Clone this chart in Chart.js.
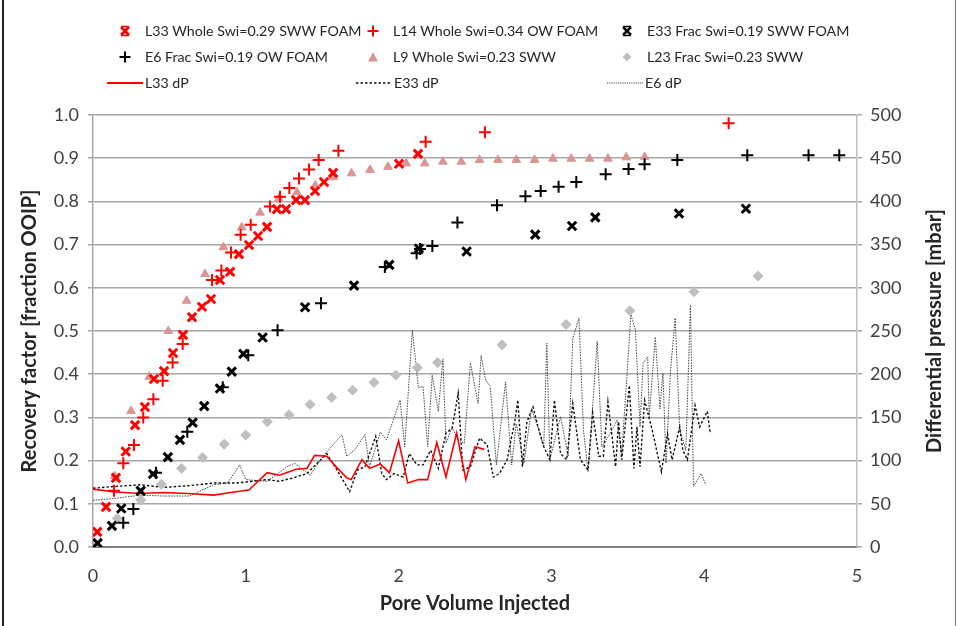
<!DOCTYPE html>
<html><head><meta charset="utf-8">
<script src="https://cdn.jsdelivr.net/npm/chart.js@4/dist/chart.umd.min.js"></script>
<style>
html,body{margin:0;padding:0;background:#fff;}
#wrap{position:relative;width:958px;height:626px;overflow:hidden;font-family:Lato,'Open Sans',sans-serif;}
#c{position:absolute;left:0;top:0;}
.frame{position:absolute;left:2px;top:0;width:954px;height:626px;border-left:2px solid #222;border-right:1px solid #777;box-sizing:border-box;pointer-events:none}
.lt{position:absolute;font-size:14.2px;color:#262626;white-space:nowrap;line-height:18px;transform:translateY(-50%)}
.lm{position:absolute}
#rtitle{position:absolute;left:933px;top:331px;transform:translate(-50%,-50%) rotate(-90deg);font-weight:bold;font-size:20px;color:#262626;white-space:nowrap}
</style></head>
<body>
<div id="wrap">
<canvas id="c" width="958" height="626"></canvas>
<div id="legend"></div>
<div id="rtitle">Differential pressure [mbar]</div>
<div class="frame"></div>
</div>
<script>
// ---------- DATA ----------
const xTicks = [0,1,2,3,4,5];
const L33_x = [0.028,0.085,0.15,0.214,0.275,0.34,0.399,0.465,0.524,0.589,0.648,0.713,0.772,0.831,0.897,0.955,1.021,1.080,1.139,1.204,1.263,1.329,1.387,1.453,1.512,1.571,2.003,2.127];
const L33_y = [0.035,0.093,0.16,0.221,0.282,0.324,0.389,0.407,0.449,0.491,0.532,0.556,0.574,0.618,0.637,0.678,0.699,0.720,0.741,0.782,0.782,0.803,0.803,0.824,0.845,0.866,0.887,0.910];

const L14_x = [0.137,0.198,0.268,0.329,0.395,0.456,0.521,0.587,0.779,0.840,0.903,0.966,1.032,1.158,1.224,1.285,1.348,1.414,1.477,1.606,2.177,2.565,4.16];
const L14_y = [0.130,0.194,0.236,0.300,0.342,0.385,0.427,0.470,0.618,0.640,0.682,0.723,0.746,0.788,0.811,0.831,0.853,0.874,0.896,0.917,0.938,0.960,0.981];

const E33_x = [0.03,0.124,0.185,0.312,0.393,0.49,0.569,0.652,0.728,0.831,0.908,0.984,1.11,1.388,1.708,1.939,2.133,2.445,2.894,3.135,3.287,3.835,4.273];
const E33_y = [0.009,0.049,0.089,0.130,0.169,0.208,0.248,0.288,0.326,0.367,0.406,0.447,0.485,0.555,0.605,0.653,0.691,0.684,0.723,0.743,0.763,0.772,0.783];

const E6_x = [0.198,0.264,0.412,0.617,0.849,1.016,1.208,1.492,1.91,2.118,2.14,2.221,2.385,2.644,2.83,2.93,3.047,3.163,3.355,3.505,3.61,3.824,4.282,4.683,4.884];
const E6_y = [0.056,0.088,0.172,0.267,0.370,0.444,0.502,0.564,0.648,0.680,0.690,0.697,0.751,0.791,0.812,0.824,0.834,0.845,0.863,0.875,0.886,0.896,0.907,0.907,0.907];

const L9_x = [0,0.142,0.249,0.368,0.493,0.613,0.733,0.853,0.973,1.093,1.215,1.335,1.455,1.573,1.692,1.813,1.931,2.05,2.171,2.29,2.41,2.53,2.65,2.77,2.89,3.01,3.13,3.25,3.37,3.49,3.61];
const L9_y = [0,0.164,0.315,0.394,0.500,0.570,0.632,0.694,0.740,0.774,0.806,0.821,0.837,0.856,0.865,0.873,0.880,0.888,0.888,0.892,0.892,0.896,0.896,0.896,0.896,0.899,0.899,0.899,0.899,0.902,0.903];

const L23_x = [0,0.159,0.312,0.447,0.58,0.718,0.859,0.999,1.141,1.283,1.42,1.562,1.699,1.839,1.981,2.123,2.255,2.677,3.096,3.514,3.933,4.352];
const L23_y = [0,0.066,0.109,0.145,0.182,0.207,0.238,0.259,0.290,0.306,0.330,0.346,0.363,0.381,0.398,0.415,0.427,0.468,0.515,0.547,0.591,0.627];

const L33dP_x = [0,0.13,0.31,0.46,0.62,0.79,0.90,1.02,1.14,1.22,1.33,1.40,1.45,1.53,1.59,1.66,1.69,1.76,1.81,1.88,1.94,2.00,2.06,2.13,2.19,2.25,2.31,2.38,2.44,2.50,2.56];
const L33dP_y = [67,64,62,63,62,60,63,66,86,83,90,91,106,105,93,80,78,101,91,96,86,123,74,78,78,121,81,132,78,116,113];

const E33dP_x = [0,0.13,0.31,0.46,0.63,0.79,0.94,1.14,1.22,1.31,1.40,1.49,1.53,1.59,1.68,1.73,1.78,1.85,1.89,1.92,1.97,2.03,2.07,2.12,2.16,2.21,2.26,2.31,2.35,2.39,2.42,2.47,2.53,2.58,2.62,2.66,2.71,2.76,2.78,2.81,2.84,2.88,2.91,2.95,2.99,3.02,3.06,3.10,3.14,3.19,3.24,3.27,3.31,3.34,3.37,3.42,3.44,3.46,3.51,3.54,3.56,3.58,3.61,3.66,3.72,3.76,3.79,3.84,3.86,3.89,3.94,3.97,4.02,4.04];
const E33dP_y = [68,70,72,69,71,74,74,78,76,80,85,101,108,91,64,89,93,128,85,78,85,81,108,95,95,112,91,132,137,178,89,93,126,118,81,85,101,145,170,93,145,162,141,116,101,170,108,101,166,101,89,155,105,105,168,93,145,101,187,91,139,93,170,135,87,131,101,139,112,101,164,139,157,131];

const E6dP_x = [0,0.13,0.31,0.46,0.63,0.79,0.88,0.96,1.00,1.14,1.27,1.32,1.42,1.49,1.53,1.63,1.66,1.71,1.78,1.81,1.88,1.92,2.01,2.04,2.09,2.13,2.16,2.19,2.22,2.26,2.29,2.31,2.35,2.39,2.43,2.47,2.52,2.54,2.57,2.60,2.64,2.70,2.74,2.77,2.82,2.87,2.91,2.95,2.97,2.99,3.06,3.11,3.14,3.18,3.21,3.24,3.30,3.33,3.38,3.43,3.46,3.50,3.52,3.55,3.58,3.60,3.63,3.64,3.68,3.71,3.73,3.75,3.78,3.81,3.84,3.88,3.91,3.93,3.98,4.01];
const E6dP_y = [54,56,60,59,59,72,74,95,78,76,93,97,83,101,110,130,105,112,130,93,133,124,170,116,251,184,186,116,199,157,218,120,139,124,120,213,166,222,193,186,95,191,95,143,97,160,139,116,236,101,151,105,241,265,135,87,238,116,130,147,108,213,269,251,139,213,220,151,243,160,201,97,205,265,135,112,280,70,85,72];

// ---------- BUILD ----------
const pts = (xs, ys) => xs.map((x, i) => ({x, y: ys[i]}));
const RED = '#ff0000', ROSE = '#d99594', GREY = '#bfbfbf';

const datasets = [
  {label:'L33 Whole Swi=0.29 SWW FOAM', data:pts(L33_x,L33_y), pointStyle:'crossRot', pointRadius:6, borderColor:RED, backgroundColor:RED, pointBorderWidth:3, showLine:false, yAxisID:'y'},
  {label:'L14 Whole Swi=0.34 OW FOAM', data:pts(L14_x,L14_y), pointStyle:'cross', pointRadius:6, borderColor:RED, backgroundColor:RED, pointBorderWidth:2, showLine:false, yAxisID:'y'},
  {label:'E33 Frac Swi=0.19 SWW FOAM', data:pts(E33_x,E33_y), pointStyle:'crossRot', pointRadius:6, borderColor:'#000', backgroundColor:'#000', pointBorderWidth:3, showLine:false, yAxisID:'y'},
  {label:'E6 Frac Swi=0.19 OW FOAM', data:pts(E6_x,E6_y), pointStyle:'cross', pointRadius:6, borderColor:'#000', backgroundColor:'#000', pointBorderWidth:2, showLine:false, yAxisID:'y'},
  {label:'L9 Whole Swi=0.23 SWW', data:pts(L9_x,L9_y), pointStyle:'triangle', pointRadius:5, borderColor:ROSE, backgroundColor:ROSE, pointBorderWidth:1, showLine:false, yAxisID:'y'},
  {label:'L23 Frac Swi=0.23 SWW', data:pts(L23_x,L23_y), pointStyle:'rectRot', pointRadius:5, borderColor:GREY, backgroundColor:GREY, pointBorderWidth:1, showLine:false, yAxisID:'y'},
  {label:'L33 dP', data:pts(L33dP_x,L33dP_y), showLine:true, pointRadius:0, borderColor:RED, borderWidth:1.6, tension:0, yAxisID:'y2'},
  {label:'E33 dP', data:pts(E33dP_x,E33dP_y), showLine:true, pointRadius:0, borderColor:'#111', borderWidth:1.4, borderDash:[2.5,2], tension:0, yAxisID:'y2'},
  {label:'E6 dP', data:pts(E6dP_x,E6dP_y), showLine:true, pointRadius:0, borderColor:'#444', borderWidth:1, borderDash:[1.5,1.2], tension:0, yAxisID:'y2'}
];

const tickFont = {family:"Lato, 'Open Sans', sans-serif", size:18};
const titleFont = {family:"Lato, 'Open Sans', sans-serif", size:20, weight:'bold'};

new Chart(document.getElementById('c'), {
  type:'scatter',
  data:{datasets},
  options:{
    responsive:false, animation:false, events:[],
    layout:{padding:{top:115,left:0,right:0,bottom:0}},
    plugins:{legend:{display:false}, tooltip:{enabled:false}},
    scales:{
      x:{type:'linear', min:0, max:5,
        afterBuildTicks(s){ s.ticks = xTicks.map(v=>({value:v})); },
        ticks:{padding:18, font:tickFont, color:'#404040', maxRotation:0},
        grid:{display:true, drawOnChartArea:false, drawTicks:true, tickLength:0.01, color:'rgba(0,0,0,0)'},
        border:{color:'#808080', width:2},
        title:{display:true, text:'Pore Volume Injected', font:titleFont, color:'#262626', padding:{top:0,bottom:10}},
        afterFit(s){ s.height = 79; }
      },
      y:{position:'left', min:0, max:1,
        ticks:{stepSize:0.1, padding:9, font:tickFont, color:'#404040', callback:v=>Number(v).toFixed(1)},
        grid:{color:'#a6a6a6', lineWidth:1.5, tickLength:5},
        border:{color:'#a6a6a6', width:1.5},
        title:{display:true, text:'Recovery factor [fraction OOIP]', font:titleFont, color:'#262626', padding:{top:18,bottom:0}},
        afterFit(s){ s.width = 93; }
      },
      y2:{position:'right', min:0, max:500,
        ticks:{stepSize:50, padding:8, font:tickFont, color:'#404040'},
        grid:{drawOnChartArea:false, tickLength:5, color:'#a6a6a6', lineWidth:1.5},
        border:{color:'#bfbfbf', width:1.5},
        afterFit(s){ s.width = 101; }
      }
    }
  }
});

// ---------- LEGEND (HTML) ----------
const legendItems = [
  {text:datasets[0].label, mx:125, y:31, kind:'xbar', color:RED},
  {text:datasets[1].label, mx:373, y:31, kind:'plus', color:RED},
  {text:datasets[2].label, mx:627, y:31, kind:'xbar', color:'#000'},
  {text:datasets[3].label, mx:125, y:57, kind:'plus', color:'#000'},
  {text:datasets[4].label, mx:373, y:57, kind:'tri', color:ROSE},
  {text:datasets[5].label, mx:627, y:57, kind:'dia', color:GREY},
  {text:datasets[6].label, mx:125, y:83, kind:'solid', color:RED},
  {text:datasets[7].label, mx:374, y:83, kind:'dash', color:'#111'},
  {text:datasets[8].label, mx:625, y:83, kind:'dot', color:'#444'}
];
const lg = document.getElementById('legend');
legendItems.forEach(it=>{
  let svg;
  const c = it.color;
  if (it.kind==='xbar') svg = `<svg width="14" height="14" class="lm" style="left:${it.mx-7}px;top:${it.y-7}px"><path d="M3 3 L11 11 M11 3 L3 11" stroke="${c}" stroke-width="2.6"/><path d="M3 2.5 L11 2.5 M3 11.5 L11 11.5" stroke="${c}" stroke-width="1.5"/></svg>`;
  else if (it.kind==='plus') svg = `<svg width="14" height="14" class="lm" style="left:${it.mx-7}px;top:${it.y-7}px"><path d="M7 1.5 L7 12.5 M1.5 7 L12.5 7" stroke="${c}" stroke-width="2"/></svg>`;
  else if (it.kind==='tri') svg = `<svg width="14" height="14" class="lm" style="left:${it.mx-7}px;top:${it.y-7}px"><path d="M7 2 L12 11.5 L2 11.5 Z" fill="${c}"/></svg>`;
  else if (it.kind==='dia') svg = `<svg width="14" height="14" class="lm" style="left:${it.mx-7}px;top:${it.y-7}px"><path d="M7 2.5 L11.5 7 L7 11.5 L2.5 7 Z" fill="${c}"/></svg>`;
  else {
    const dash = it.kind==='dash' ? 'stroke-dasharray="2.5 2"' : it.kind==='dot' ? 'stroke-dasharray="1.2 1"' : '';
    const w = it.kind==='solid' ? 1.8 : (it.kind==='dash'?1.4:1);
    svg = `<svg width="36" height="6" class="lm" style="left:${it.mx-18}px;top:${it.y-3}px"><line x1="0" y1="3" x2="36" y2="3" stroke="${c}" stroke-width="${w}" ${dash}/></svg>`;
  }
  const tx = it.mx + 20;
  lg.insertAdjacentHTML('beforeend', svg + `<div class="lt" style="left:${tx}px;top:${it.y}px">${it.text}</div>`);
});
</script>
</body></html>
